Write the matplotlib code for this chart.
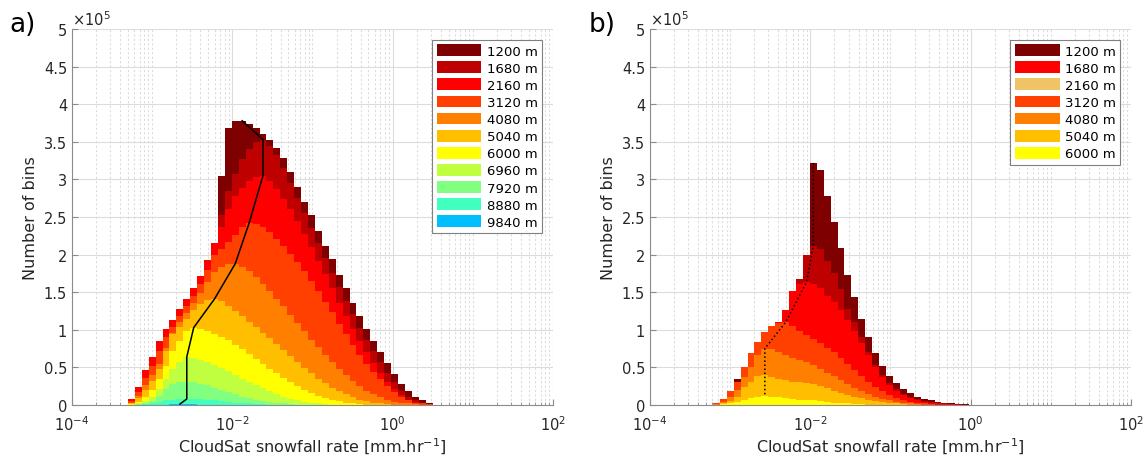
import numpy as np
import matplotlib
matplotlib.use("Agg")
import matplotlib.pyplot as plt
from matplotlib.patches import Patch
from matplotlib.ticker import FixedLocator, LogLocator, NullFormatter

# log10 of the first bin edge and the log10 bin step (same grid in both panels)
first_edge = -3.302
bin_step = 0.0864
n_bins = 44

# ---------------- panel a : counts per bin, in units of 1e5 ----------------
heights_a = ["1200 m", "1680 m", "2160 m", "3120 m", "4080 m", "5040 m",
             "6000 m", "6960 m", "7920 m", "8880 m", "9840 m"]

a1200 = [0.08, 0.24, 0.46, 0.64, 0.85, 1.01, 1.13, 1.28, 1.41, 1.56,
         1.72, 1.93, 2.15, 3.05, 3.68, 3.77, 3.78, 3.73, 3.68, 3.61,
         3.52, 3.42, 3.28, 3.10, 2.90, 2.70, 2.52, 2.32, 2.12, 1.94,
         1.73, 1.55, 1.36, 1.19, 1.01, 0.85, 0.70, 0.56, 0.41, 0.28,
         0.18, 0.10, 0.06, 0.03]
a1680 = [0.08, 0.24, 0.46, 0.64, 0.85, 1.01, 1.13, 1.28, 1.41, 1.56,
         1.72, 1.93, 2.15, 2.52, 2.85, 3.07, 3.27, 3.40, 3.50, 3.53,
         3.45, 3.32, 3.15, 2.95, 2.75, 2.55, 2.35, 2.15, 1.96, 1.76,
         1.57, 1.38, 1.21, 1.03, 0.87, 0.72, 0.57, 0.43, 0.30, 0.19,
         0.11, 0.06, 0.03, 0.01]
a2160 = [0.08, 0.24, 0.46, 0.64, 0.85, 1.01, 1.13, 1.28, 1.41, 1.56,
         1.72, 1.93, 2.15, 2.37, 2.61, 2.78, 2.89, 2.98, 3.03, 3.05,
         2.98, 2.87, 2.74, 2.60, 2.45, 2.28, 2.10, 1.92, 1.74, 1.55,
         1.36, 1.18, 1.01, 0.85, 0.70, 0.56, 0.43, 0.31, 0.21, 0.13,
         0.07, 0.04, 0.02, 0.01]
a3120 = [0.05, 0.17, 0.36, 0.52, 0.72, 0.90, 1.04, 1.18, 1.31, 1.45,
         1.61, 1.80, 1.99, 2.07, 2.17, 2.26, 2.37, 2.42, 2.41, 2.37,
         2.30, 2.21, 2.12, 2.01, 1.90, 1.78, 1.65, 1.51, 1.37, 1.23,
         1.08, 0.94, 0.80, 0.67, 0.55, 0.44, 0.34, 0.25, 0.17, 0.11,
         0.06, 0.03, 0.02, 0.01]
a4080 = [0.03, 0.12, 0.27, 0.40, 0.55, 0.76, 0.96, 1.10, 1.22, 1.35,
         1.49, 1.63, 1.77, 1.84, 1.87, 1.88, 1.84, 1.78, 1.70, 1.61,
         1.51, 1.41, 1.31, 1.20, 1.09, 0.98, 0.87, 0.77, 0.67, 0.57,
         0.48, 0.40, 0.32, 0.25, 0.19, 0.14, 0.10, 0.07, 0.04, 0.03,
         0.02, 0.01, 0.0, 0.0]
a5040 = [0.02, 0.09, 0.20, 0.32, 0.48, 0.72, 0.94, 1.04, 1.15, 1.26,
         1.34, 1.39, 1.41, 1.38, 1.32, 1.25, 1.18, 1.11, 1.04, 0.96,
         0.89, 0.81, 0.73, 0.65, 0.57, 0.49, 0.42, 0.35, 0.29, 0.23,
         0.18, 0.14, 0.10, 0.07, 0.05, 0.03, 0.02, 0.01] + [0.0] * 6
a6000 = [0.01, 0.04, 0.10, 0.20, 0.35, 0.52, 0.72, 0.85, 0.99, 1.03,
         1.01, 0.98, 0.94, 0.90, 0.86, 0.80, 0.74, 0.68, 0.61, 0.54,
         0.48, 0.42, 0.36, 0.30, 0.25, 0.20, 0.16, 0.12, 0.09, 0.07,
         0.05, 0.03, 0.02, 0.01] + [0.0] * 10
a6960 = [0.0, 0.02, 0.05, 0.10, 0.21, 0.35, 0.48, 0.57, 0.64, 0.63,
         0.60, 0.57, 0.53, 0.49, 0.45, 0.40, 0.35, 0.30, 0.26, 0.22,
         0.18, 0.14, 0.11, 0.08, 0.06, 0.04, 0.03, 0.02, 0.01] + [0.0] * 15
a7920 = [0.0, 0.01, 0.02, 0.05, 0.12, 0.21, 0.28, 0.30, 0.31, 0.30,
         0.28, 0.26, 0.23, 0.20, 0.17, 0.14, 0.11, 0.09, 0.07, 0.05,
         0.04, 0.03, 0.02, 0.01] + [0.0] * 20
a8880 = [0.0, 0.0, 0.01, 0.02, 0.04, 0.06, 0.07, 0.075, 0.08, 0.078,
         0.075, 0.07, 0.06, 0.05, 0.04, 0.03, 0.025, 0.02, 0.015, 0.01,
         0.005] + [0.0] * 23
a9840 = [0.0, 0.0, 0.0, 0.0, 0.0, 0.005, 0.008, 0.012, 0.010, 0.008,
         0.006, 0.004, 0.003, 0.002, 0.001] + [0.0] * 29

# ---------------- panel b ----------------
heights_b = ["1200 m", "1680 m", "2160 m", "3120 m", "4080 m", "5040 m", "6000 m"]

b1200 = [0.0, 0.03, 0.08, 0.18, 0.35, 0.50, 0.69, 0.84, 0.97, 1.05,
         1.10, 1.26, 1.51, 1.68, 2.00, 3.22, 3.13, 2.78, 2.43, 2.09,
         1.73, 1.43, 1.14, 0.90, 0.69, 0.52, 0.39, 0.29, 0.21, 0.16,
         0.11, 0.08, 0.06, 0.04, 0.03, 0.02, 0.015, 0.01] + [0.0] * 6
b1680 = [0.0, 0.03, 0.08, 0.18, 0.30, 0.50, 0.69, 0.84, 0.97, 1.05,
         1.10, 1.26, 1.51, 1.68, 2.00, 2.12, 2.07, 1.92, 1.75, 1.54,
         1.28, 1.10, 0.90, 0.70, 0.53, 0.40, 0.29, 0.21, 0.15, 0.11,
         0.08, 0.055, 0.04, 0.03, 0.02, 0.013, 0.01, 0.006] + [0.0] * 6
b2160 = [0.0, 0.03, 0.08, 0.18, 0.30, 0.50, 0.69, 0.84, 0.97, 1.05,
         1.10, 1.26, 1.51, 1.61, 1.63, 1.61, 1.55, 1.45, 1.37, 1.26,
         1.13, 0.98, 0.82, 0.66, 0.50, 0.37, 0.27, 0.19, 0.13, 0.09,
         0.06, 0.04, 0.03, 0.02, 0.01, 0.008, 0.005, 0.003] + [0.0] * 6
b3120 = [0.0, 0.03, 0.08, 0.18, 0.30, 0.50, 0.69, 0.84, 0.97, 1.05,
         1.09, 1.10, 1.05, 0.99, 0.93, 0.88, 0.82, 0.76, 0.70, 0.62,
         0.54, 0.46, 0.38, 0.31, 0.24, 0.18, 0.13, 0.09, 0.06, 0.04,
         0.03, 0.02, 0.01, 0.005] + [0.0] * 10
b4080 = [0.0, 0.01, 0.04, 0.10, 0.20, 0.37, 0.50, 0.66, 0.75, 0.74,
         0.70, 0.66, 0.63, 0.60, 0.57, 0.53, 0.48, 0.43, 0.38, 0.33,
         0.28, 0.23, 0.19, 0.15, 0.11, 0.08, 0.06, 0.04, 0.03, 0.02,
         0.01] + [0.0] * 13
b5040 = [0.0, 0.005, 0.02, 0.05, 0.10, 0.24, 0.30, 0.38, 0.40, 0.37,
         0.34, 0.33, 0.31, 0.30, 0.29, 0.28, 0.25, 0.22, 0.19, 0.16,
         0.13, 0.11, 0.09, 0.07, 0.05, 0.04, 0.03, 0.02, 0.01] + [0.0] * 15
b6000 = [0.0, 0.0, 0.01, 0.02, 0.04, 0.07, 0.09, 0.11, 0.12, 0.11,
         0.10, 0.09, 0.08, 0.07, 0.065, 0.06, 0.05, 0.04, 0.03, 0.025,
         0.02, 0.015, 0.01, 0.005] + [0.0] * 20

cols = ["#7f0000", "#bf0000", "#ff0000", "#ff4000", "#ff8000", "#ffbf00",
        "#ffff00", "#bfff40", "#80ff80", "#40ffbf", "#00bfff"]
# the legend of panel b shows other colours for two entries
cols_b_legend = ["#7f0000", "#ff0000", "#f0c364", "#ff4000", "#ff8000",
                 "#ffbf00", "#ffff00"]

layers_a = [a1200, a1680, a2160, a3120, a4080, a5040, a6000,
            a6960, a7920, a8880, a9840]
layers_b = [b1200, b1680, b2160, b3120, b4080, b5040, b6000]

edges = 10 ** (first_edge + bin_step * np.arange(n_bins + 1))
centers = np.sqrt(edges[:-1] * edges[1:])

txt = "#262626"
axc = "#8c8c8c"
grid_c = "#dcdcdc"

fig = plt.figure(figsize=(11.46, 4.6), dpi=100)
ax_a = fig.add_axes([0.0628, 0.1174, 0.4197, 0.8174])
ax_b = fig.add_axes([0.5672, 0.1174, 0.4197, 0.8174])


def draw(ax, layers, labels, leg_cols, line_style):
    for vals, c in zip(layers, cols):
        ax.stairs(vals, edges, fill=True, color=c, linewidth=0)
    # line through the mode of each layer
    px = [centers[int(np.argmax(v))] for v in layers]
    py = [max(v) for v in layers]
    ax.plot(px, py, color="k", lw=1.1, ls=line_style)

    ax.set_xscale("log")
    ax.set_xlim(1e-4, 1e2)
    ax.set_ylim(0, 5)
    ax.xaxis.set_major_locator(FixedLocator([1e-4, 1e-2, 1e0, 1e2]))
    ax.xaxis.set_minor_locator(LogLocator(base=10, subs=np.arange(1, 10), numticks=100))
    ax.xaxis.set_minor_formatter(NullFormatter())
    ax.set_yticks(np.arange(0, 5.01, 0.5))
    ax.set_yticklabels(["%g" % v for v in np.arange(0, 5.01, 0.5)])

    ax.set_axisbelow(True)
    ax.grid(True, which="major", color=grid_c, lw=0.8)
    ax.grid(True, which="minor", axis="x", color=grid_c, lw=0.8, ls=(0, (2, 2)))

    for s in ["top", "right"]:
        ax.spines[s].set_visible(False)
    for s in ["left", "bottom"]:
        ax.spines[s].set_color(axc)
    ax.tick_params(which="both", direction="in", colors=axc, labelcolor=txt,
                   labelsize=10.5)
    ax.tick_params(which="major", length=4)
    ax.tick_params(which="minor", length=2)
    ax.tick_params(axis="x", which="major", pad=7)

    ax.set_xlabel(r"CloudSat snowfall rate [mm.hr$^{-1}$]", fontsize=11.5,
                  color=txt, labelpad=2)
    ax.set_ylabel("Number of bins", fontsize=11.5, color=txt)
    ax.text(0.0, 1.003, r"$\times$10$^5$", transform=ax.transAxes, fontsize=10.5,
            color=txt, ha="left", va="bottom")

    handles = [Patch(facecolor=c, edgecolor="none") for c in leg_cols]
    leg = ax.legend(handles, labels, loc="upper right", fontsize=9.5,
                    handlelength=3.4, handleheight=1.0, labelspacing=0.28,
                    handletextpad=0.4, borderpad=0.35, borderaxespad=0.8,
                    fancybox=False, framealpha=1, edgecolor="#808080")
    leg.get_frame().set_linewidth(0.8)


draw(ax_a, layers_a, heights_a, cols, "-")
draw(ax_b, layers_b, heights_b, cols_b_legend, ":")

fig.text(0.008, 0.93, "a)", fontsize=19, color="k")
fig.text(0.514, 0.93, "b)", fontsize=19, color="k")

fig.savefig("out.png", dpi=100)
